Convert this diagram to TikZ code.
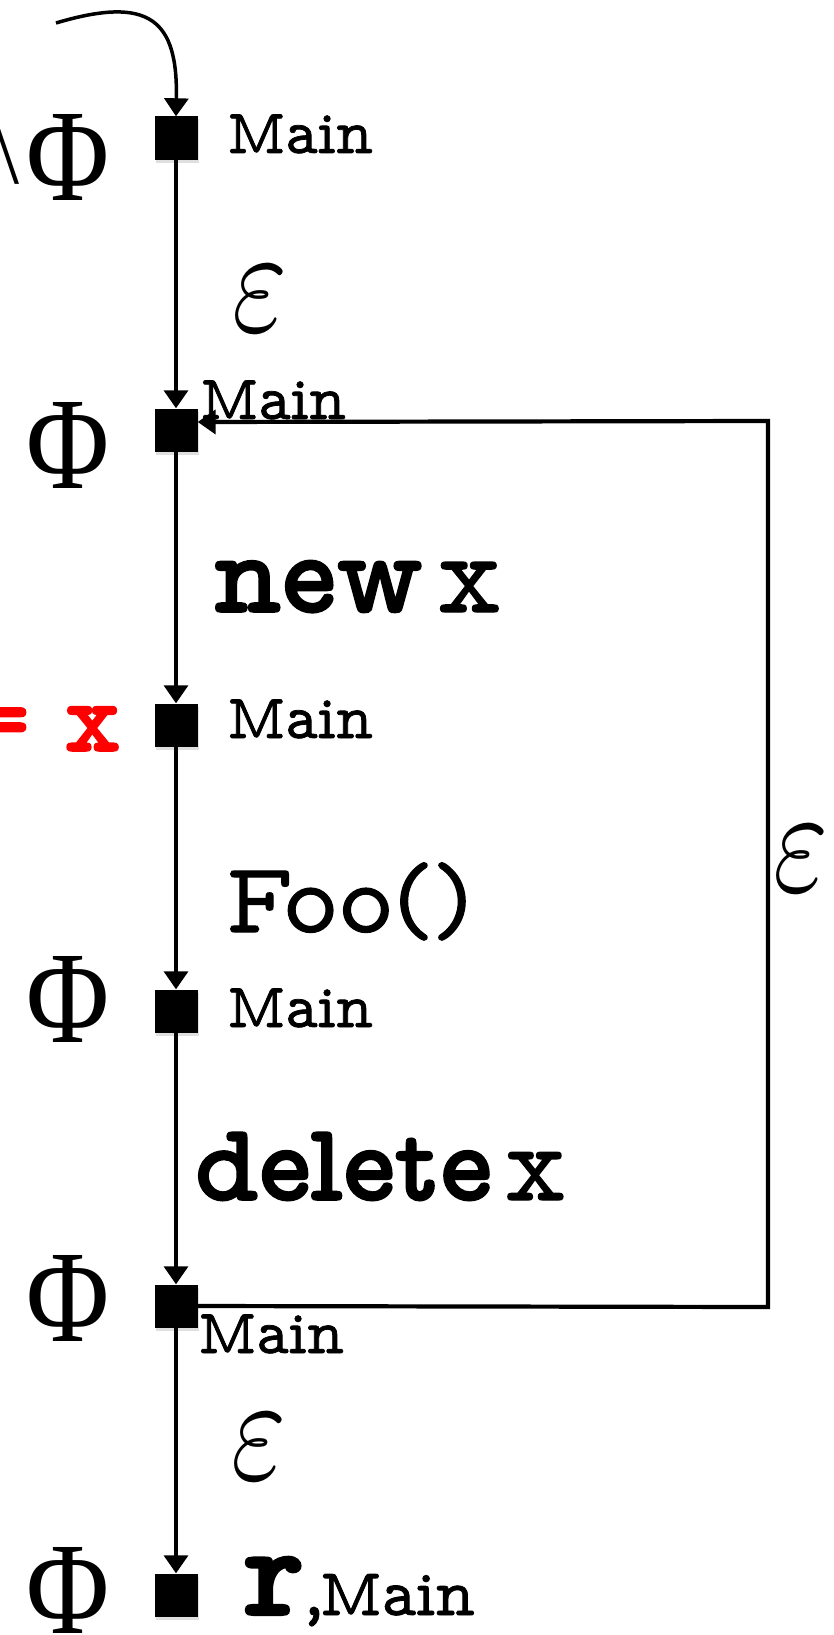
\documentclass[tikz,border=0pt]{standalone}
\usepackage{fontspec}
\newfontfamily\phifont{Liberation Serif}
\newfontfamily\tw{lmmonoprop10-regular}[Extension=.otf,FakeBold=1.2]
\newfontfamily\twb{lmmonoproplt10-bold}[Extension=.otf,FakeBold=1.5]
\usetikzlibrary{arrows.meta,shadows}
\newcommand{\PHI}{\resizebox{83pt}{86pt}{\phifont Φ}}
\newcommand{\EPS}{\resizebox{55pt}{65pt}{$\varepsilon$}}
\newcommand{\fsz}[1]{\fontsize{#1}{#1}\selectfont}
\begin{document}
\begin{tikzpicture}[x=1pt,y=-1pt,
  sq/.style={fill=black,minimum size=43pt,inner sep=0pt,draw=none,
    drop shadow={opacity=0.25,shadow xshift=1pt,shadow yshift=-3pt}},
  flow/.style={line width=3.5pt,-{Triangle[length=18pt,width=24pt]}},
  loopline/.style={line width=4.2pt,-{Triangle[length=18pt,width=24pt]}},
  lbl/.style={inner sep=0pt,outer sep=0pt,anchor=base west},
  mainlbl/.style={lbl,font=\tw\fsz{63}},
]
\useasboundingbox (0,0) rectangle (834,1635);
\clip (0,0) rectangle (834,1635);

% squares
\node[sq] (s1) at (176,138) {};
\node[sq] (s2) at (176,430) {};
\node[sq] (s3) at (176,725) {};
\node[sq] (s4) at (176,1011) {};
\node[sq] (s5) at (176,1306) {};
\node[sq] (s6) at (176,1595) {};

% Phi labels
\node[lbl,anchor=base] (p1) at (68,200) {\PHI};
\node[lbl,anchor=base east] (bs) at (20,183) {\phifont\fsz{90}\textbackslash};
\node[lbl,anchor=base] (p2) at (68,488) {\PHI};
\node[lbl,anchor=base] (p4) at (68,1042) {\PHI};
\node[lbl,anchor=base] (p5) at (68,1341) {\PHI};
\node[lbl,anchor=base] (p6) at (68,1633) {\PHI};
\node[lbl,anchor=base east,text=red] (rx) at (121,751) {\twb\fsz{102}= \kern-3pt x};

% Main labels
\node[mainlbl] (m1) at (227,153) {Main};
\node[mainlbl] (m2) at (200,419) {Main};
\node[mainlbl] (m3) at (227,738) {Main};
\node[mainlbl] (m4) at (227,1027) {Main};
\node[mainlbl] (m5) at (198,1353) {Main};
\node[lbl] (r) at (244,1615) {\scalebox{1.12}[1]{\twb\fsz{132}r}\tw\fsz{80}\kern-2pt,\kern-6pt\fsz{67}Main};

% edge labels
\node[lbl] (e1) at (232,331) {\EPS};
\node[lbl] (e2) at (773,891) {\EPS};
\node[lbl] (e3) at (231,1479) {\EPS};
\node[lbl] (n1) at (214,612) {\twb\fsz{116}new \kern-27pt\tw x};
\node[lbl] (f1) at (226,932) {\tw\fsz{100}Foo()};
\node[lbl] (d1) at (194,1200) {\twb\fsz{111}delete \kern-26pt\tw x};

% connectors
\coordinate (start) at (56,23);
\draw[flow] (start) .. controls (150,-5) and (178,20) .. (s1.north);
\draw[flow] (s1) -- (s2);
\draw[flow] (s2) -- (s3);
\draw[flow] (s3) -- (s4);
\draw[flow] (s4) -- (s5);
\draw[flow] (s5) -- (s6);
\draw[loopline] (s5.east) -- (768,1307) -- (768,421) -- (s2.east |- 0,422);
\end{tikzpicture}
\end{document}
